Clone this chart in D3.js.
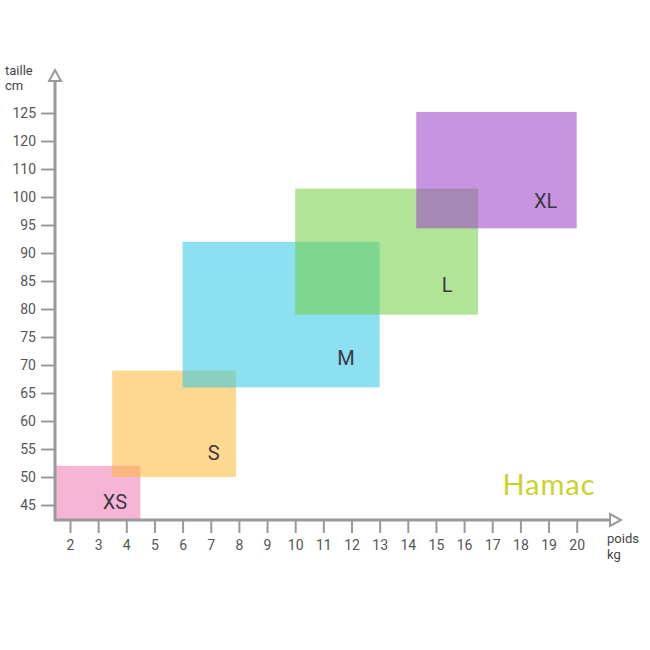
<!DOCTYPE html>
<html>
<head>
<meta charset="utf-8">
<script src="https://cdn.jsdelivr.net/npm/d3@7"></script>
<style>
body { margin: 0; background: #fff; }
svg { display: block; }
.axis text { font-family: "Roboto", "DejaVu Sans", sans-serif; font-size: 14px; fill: #555; }
.axis line { stroke: #9a9a9a; stroke-width: 2; }
.axis path { display: none; }
.size-label { font-family: "Roboto", sans-serif; font-size: 20px; fill: #3c3844; }
.title { font-family: "Roboto", sans-serif; font-size: 13px; fill: #444; }
</style>
</head>
<body>
<svg id="chart" width="650" height="650"></svg>
<script>
// sizes, weight (kg) and height (cm) ranges
var sizes   = ["XS", "S", "M", "L", "XL"];
var kgMin   = [1.5, 3.5, 6, 10, 14.3];
var kgMax   = [4.5, 7.9, 13, 16.5, 20];
var cmMin   = [42.3, 50, 66, 79, 94.4];
var cmMax   = [52, 69, 92, 103, 125.2];
var labelKg = [3.6, 7.1, 11.8, 15.4, 18.9];
var labelCm = [45.5, 54.3, 71.2, 84.3, 99.3];
var colors  = ["#f17bb6", "#f9b93b", "#32c8e4", "#74cf44", "#9d40cb"];

var xTicks = d3.range(2, 21);
var yTicks = [45, 50, 55, 60, 65, 70, 75, 80, 85, 90, 95, 100, 110, 120, 125];

var svg = d3.select("#chart");

var x = d3.scaleLinear().domain([2, 20]).range([70, 576.7]);
// the chart spaces its ticks evenly even where steps change (100 -> 110 -> 120 -> 125)
var y = d3.scaleLinear()
    .domain(yTicks)
    .range(yTicks.map(function(d, i) { return 505 - 28 * i; }));

var axisX = 55, axisY = 520;

var boxes = sizes.map(function(s, i) {
  return {size: s, x0: kgMin[i], x1: kgMax[i], y0: cmMin[i], y1: cmMax[i],
          lx: labelKg[i], ly: labelCm[i], color: colors[i]};
});

svg.append("g").selectAll("rect")
  .data(boxes)
  .enter().append("rect")
    .attr("x", function(d) { return x(d.x0); })
    .attr("y", function(d) { return y(d.y1); })
    .attr("width", function(d) { return x(d.x1) - x(d.x0); })
    .attr("height", function(d) { return y(d.y0) - y(d.y1); })
    .attr("fill", function(d) { return d.color; })
    .attr("fill-opacity", 0.56);

// axes
var gy = svg.append("g")
    .attr("class", "axis")
    .attr("transform", "translate(" + axisX + ",0)")
    .call(d3.axisLeft(y).tickValues(yTicks).tickSize(14).tickPadding(5));

var gx = svg.append("g")
    .attr("class", "axis")
    .attr("transform", "translate(0," + axisY + ")")
    .call(d3.axisBottom(x).tickValues(xTicks).tickSize(13).tickPadding(7));

// axis lines with hollow arrow heads
svg.append("line")
    .attr("x1", axisX).attr("y1", axisY + 1)
    .attr("x2", axisX).attr("y2", 81)
    .attr("stroke", "#9a9a9a").attr("stroke-width", 3);
svg.append("line")
    .attr("x1", axisX - 1).attr("y1", axisY)
    .attr("x2", 610).attr("y2", axisY)
    .attr("stroke", "#9a9a9a").attr("stroke-width", 3);

svg.append("path")
    .attr("d", "M" + (axisX - 6) + ",81 L" + axisX + ",70 L" + (axisX + 6) + ",81 Z")
    .attr("fill", "#fff").attr("stroke", "#9a9a9a").attr("stroke-width", 2);
svg.append("path")
    .attr("d", "M610," + (axisY - 6) + " L621," + axisY + " L610," + (axisY + 6) + " Z")
    .attr("fill", "#fff").attr("stroke", "#9a9a9a").attr("stroke-width", 2);

// size labels
svg.append("g").selectAll("text")
  .data(boxes)
  .enter().append("text")
    .attr("class", "size-label")
    .attr("x", function(d) { return x(d.lx); })
    .attr("y", function(d) { return y(d.ly); })
    .attr("dy", "0.36em")
    .attr("text-anchor", "middle")
    .text(function(d) { return d.size; });

// axis titles
svg.append("text").attr("class", "title").attr("x", 5).attr("y", 75).text("taille");
svg.append("text").attr("class", "title").attr("x", 5).attr("y", 90).text("cm");
svg.append("text").attr("class", "title").attr("x", 607).attr("y", 543).text("poids");
svg.append("text").attr("class", "title").attr("x", 607).attr("y", 559).text("kg");

// brand
svg.append("text")
    .attr("x", 549).attr("y", 495)
    .attr("text-anchor", "middle")
    .style("font-family", "'Lato', sans-serif")
    .style("font-size", "29px")
    .style("letter-spacing", "1px")
    .attr("fill", "#c8d42c")
    .text("Hamac");
</script>
</body>
</html>
